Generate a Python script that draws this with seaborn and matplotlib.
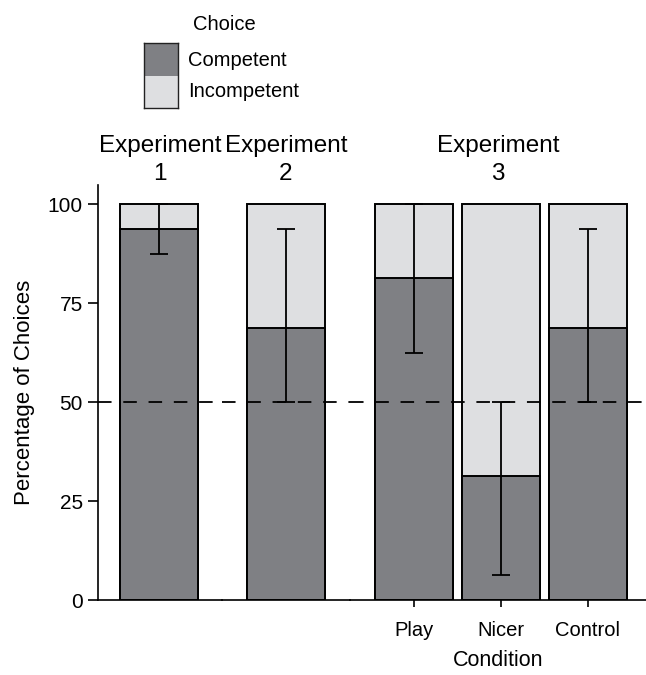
import numpy as np
import pandas as pd
import matplotlib
matplotlib.use('Agg')
import matplotlib.pyplot as plt
from matplotlib.patches import Rectangle
import seaborn as sns

sns.set_theme(style='ticks')
plt.rcParams['font.family'] = ['Liberation Sans', 'DejaVu Sans']
plt.rcParams.update({'text.color': 'black', 'axes.labelcolor': 'black',
                     'xtick.color': 'black', 'ytick.color': 'black',
                     'axes.edgecolor': 'black'})

# data
experiments = ['Experiment\n1', 'Experiment\n2', 'Experiment\n3', 'Experiment\n3', 'Experiment\n3']
conditions = ['', ' ', 'Play', 'Nicer', 'Control']
competent = [93.75, 68.75, 81.25, 31.25, 68.75]
ci_low = [87.5, 50.0, 62.5, 6.25, 50.0]
ci_high = [100.0, 93.75, 100.0, 50.0, 93.75]
choice_labels = ['Competent', 'Incompetent']

dark = '#7f8084'
light = '#dedfe1'

df = pd.DataFrame({'experiment': experiments, 'condition': conditions,
                   'competent': competent, 'low': ci_low, 'high': ci_high})
df['total'] = 100.0

W, H = 646, 675
fig = plt.figure(figsize=(W / 100, H / 100), dpi=100)

# panel extents in pixels (left, right) and x-limits in category units
panels = [(98, 222, (-0.701, 0.724)),
          (222, 350, (-0.736, 0.736)),
          (350, 646, (-0.736, 2.667))]
top_px, bot_px = 185, 600

for i, exp in enumerate(df['experiment'].unique()):
    left, right, xlim = panels[i]
    ax = fig.add_axes([left / W, 1 - bot_px / H, (right - left) / W, (bot_px - top_px) / H])
    ax.set_facecolor('none')
    sub = df[df['experiment'] == exp].reset_index(drop=True)
    sns.barplot(data=sub, x='condition', y='total', color=light, saturation=1,
                edgecolor='black', linewidth=1.4, width=0.9, errorbar=None, ax=ax)
    sns.barplot(data=sub, x='condition', y='competent', color=dark, saturation=1,
                edgecolor='black', linewidth=1.4, width=0.9, errorbar=None, ax=ax)
    ax.errorbar(x=np.arange(len(sub)), y=sub['competent'],
                yerr=[sub['competent'] - sub['low'], sub['high'] - sub['competent']],
                fmt='none', ecolor='black', elinewidth=1.3, capsize=6.5, capthick=1.3, zorder=6)
    ax.axhline(50, color='black', lw=1.3, dashes=(7.5, 6.5), zorder=5)
    ax.set_xlim(*xlim)
    ax.set_ylim(0, 104.8)
    ax.set_title(exp, fontsize=17.5, pad=2, linespacing=1.35)
    sns.despine(ax=ax, left=(i > 0))
    ax.spines['bottom'].set_linewidth(1.2)
    ax.spines['left'].set_linewidth(1.2)
    ax.set_ylabel('')
    ax.set_xlabel('')
    if i == 0:
        ax.set_yticks([0, 25, 50, 75, 100])
        ax.tick_params(axis='y', length=7, width=1.2, pad=4, labelsize=15)
        ax.set_ylabel('Percentage of Choices', fontsize=16, labelpad=9)
    else:
        ax.set_yticks([])
    if i < 2:
        ax.tick_params(axis='x', bottom=False, labelbottom=False)
    else:
        ax.tick_params(axis='x', length=5, width=1.2, pad=10, labelsize=14.5)
        ax.set_xlabel('Condition', fontsize=15.5, labelpad=7)

# legend drawn as one outlined key split in two
lax = fig.add_axes([144 / W, 1 - 108 / H, 34 / W, 65 / H])
lax.set_xlim(0, 1)
lax.set_ylim(0, 2)
lax.add_patch(Rectangle((0, 1), 1, 1, facecolor=dark, edgecolor='none'))
lax.add_patch(Rectangle((0, 0), 1, 1, facecolor=light, edgecolor='none'))
for s in lax.spines.values():
    s.set_visible(True)
    s.set_linewidth(1.0)
    s.set_color('#222222')
lax.set_xticks([])
lax.set_yticks([])

fig.text(193 / W, 1 - 30 / H, 'Choice', fontsize=14.5, va='baseline', ha='left')
fig.text(188 / W, 1 - 66 / H, choice_labels[0], fontsize=14.5, va='baseline', ha='left')
fig.text(188 / W, 1 - 97 / H, choice_labels[1], fontsize=14.5, va='baseline', ha='left')

fig.savefig('out.png', dpi=100)
